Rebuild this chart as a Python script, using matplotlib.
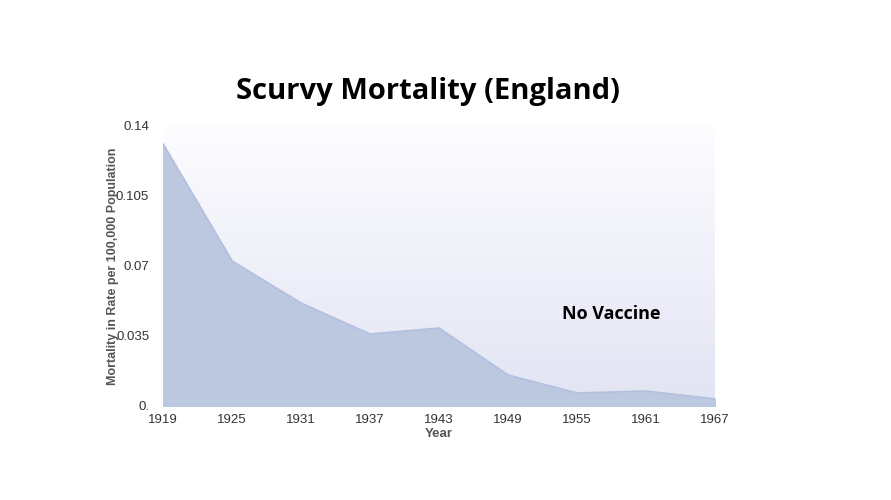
import matplotlib
matplotlib.use("Agg")
import matplotlib.pyplot as plt
import numpy as np
from matplotlib.colors import LinearSegmentedColormap

years = [1919, 1925, 1931, 1937, 1943, 1949, 1955, 1961, 1967]
mortality = [0.131, 0.0725, 0.0515, 0.036, 0.039, 0.0155, 0.0065, 0.0075, 0.0035]
yticks = [0, 0.035, 0.07, 0.105, 0.14]
ytick_labels = ["0.", "0.035", "0.07", "0.105", "0.14"]

plt.rcParams['font.family'] = ['Liberation Sans', 'DejaVu Sans']

fig = plt.figure(figsize=(8.91, 5), dpi=100)
ax = fig.add_axes([0.183, 0.188, 0.6195, 0.56])

cmap = LinearSegmentedColormap.from_list("bg", ["#e2e4f3", "#fdfcff"])
grad = np.linspace(0, 1, 256).reshape(-1, 1)
ax.imshow(grad, aspect="auto", cmap=cmap, origin="lower",
          extent=[1919, 1967, 0, 0.14], zorder=0)

ax.fill_between(years, mortality, 0, color="#bcc7e0", zorder=2)
ax.plot(years, mortality, color="#b3c1df", lw=1.2, zorder=3)

ax.set_xlim(1919, 1967)
ax.set_ylim(0, 0.14)
ax.set_xticks(years)
ax.set_yticks(yticks)
ax.set_yticklabels(ytick_labels)
for s in ax.spines.values():
    s.set_visible(False)
ax.tick_params(length=0, labelsize=9.5, colors="#333333")
ax.tick_params(axis="x", pad=6)
ax.tick_params(axis="y", pad=10)
ax.set_xlabel("Year", fontsize=9.5, fontweight="bold", color="#555555", labelpad=1)
ax.set_ylabel("Mortality in Rate per 100,000 Population", fontsize=9,
              fontweight="bold", color="#555555", labelpad=-2)

ax.text(1958, 0.046, "No Vaccine", fontsize=13, fontweight="bold",
        family="Open Sans", ha="center", va="center", color="black", zorder=4)
fig.text(0.48, 0.817, "Scurvy Mortality (England)", fontsize=21, fontweight="bold",
         family="Open Sans", ha="center", va="center")

fig.savefig("out.png", dpi=100)
